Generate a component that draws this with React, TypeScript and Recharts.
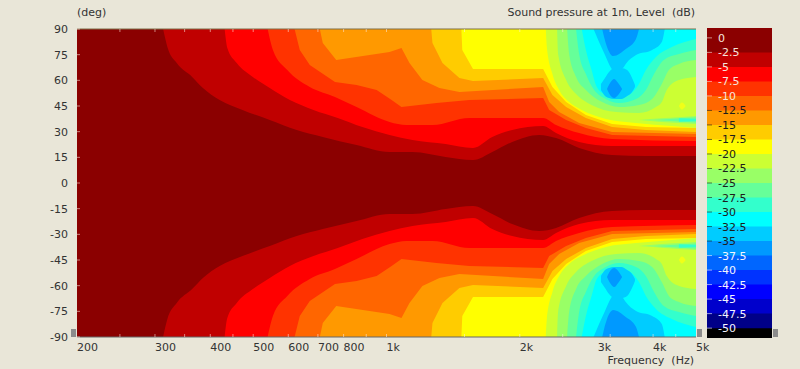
import React from 'react';
import { ComposedChart, Area, XAxis, YAxis } from 'recharts';

const FONT = '"DejaVu Sans", sans-serif';
const BG = '#e9e6d8';

// axis ticks
const angleTicks = [-90, -75, -60, -45, -30, -15, 0, 15, 30, 45, 60, 75, 90];
const freqMinor = [250, 300, 350, 400, 450, 500, 600, 700, 800, 900, 1000, 1500, 2000, 2500, 3200, 4000, 4500];
const freqLabels: Record<number, string> = {
  200: '200', 300: '300', 400: '400', 500: '500', 600: '600', 700: '700', 800: '800',
  1000: '1k', 2000: '2k', 3000: '3k', 4000: '4k', 5000: '5k',
};
const freqTicks = [200, 250, 300, 350, 400, 450, 500, 600, 700, 800, 900, 1000, 1500, 2000, 2500, 3000, 3200, 4000, 4500, 5000];

// contour lines of the upper half, [Hz, deg], the level is filled from the line up to 90 deg
const c25 = [[313, 90], [320, 79.5], [336, 70.1], [364, 62], [385, 55.5], [420, 48.5], [473, 42.7], [545, 36.8], [627, 31], [718, 26.9], [856, 22.2], [1016, 18.1], [1145, 18.1], [1360, 15.2], [1568, 13.4], [1733, 18.1], [1922, 24], [2212, 28.1], [2415, 26.3], [2723, 20.5], [3232, 16.4], [3853, 15.8], [5000, 15.8]];
const c50 = [[431, 90], [437, 78.9], [459, 70.1], [499, 62], [545, 55.5], [605, 48.5], [684, 42.7], [776, 38], [882, 32.7], [1016, 28.1], [1145, 25.1], [1360, 22.8], [1568, 20.5], [1733, 26.9], [1922, 31], [2258, 33.3], [2415, 29.2], [2723, 24], [3232, 21.6], [5000, 21.6]];
const c75 = [[539, 90], [554, 77.7], [597, 66], [671, 56.1], [765, 50.3], [856, 44.4], [1016, 35.7], [1110, 33.9], [1270, 33.9], [1538, 38], [1767, 38], [2258, 38], [2415, 33.9], [2723, 29.2], [3232, 25.7], [5000, 24.5]];
const c100 = [[620, 90], [637, 77.7], [671, 69], [765, 59], [856, 57.3], [950, 54.4], [1027, 48.5], [1081, 44.4], [1297, 46.8], [1538, 48.5], [2258, 49.7], [2330, 42.7], [2545, 36.8], [2820, 32.1], [3232, 28.1], [5000, 26.9]];
const c125 = [[707, 90], [718, 81.8], [770, 71.9], [1016, 76.6], [1081, 78.9], [1127, 70.1], [1205, 60.2], [1317, 55.5], [1461, 53.2], [2258, 56.1], [2330, 47.3], [2454, 41.5], [2723, 35.1], [3232, 29.8], [5000, 28.6]];
const c150 = [[1262, 90], [1270, 81.8], [1338, 70.1], [1461, 61.4], [1568, 59.6], [2258, 61.4], [2370, 51.4], [2545, 44.4], [2820, 38], [3232, 32.7], [3853, 31], [5000, 29.8]];
const c175 = [[1476, 90], [1483, 77.7], [1568, 66.6], [2258, 66.6], [2370, 56.1], [2545, 47.3], [2820, 39.7], [3232, 34.5], [3853, 32.7], [5000, 32.1]];
const c200 = [[2290, 90], [2302, 79.5], [2370, 63.7], [2454, 54.4], [2585, 47.3], [2760, 42.7], [3130, 37.4], [3660, 35.1], [4410, 33.3], [5000, 32.1]];
const c225 = [[2428, 90], [2441, 75.4], [2545, 60.2], [2680, 52], [2905, 45.6], [3300, 41.5], [3717, 40.9], [4060, 44.4], [4185, 47.3], [4295, 54.4], [4575, 60.2], [5000, 62]];
const c250 = [[2558, 90], [2585, 75.4], [2680, 62], [2820, 54.4], [3070, 47.3], [3351, 44.4], [3717, 45.6], [3980, 49.1], [4185, 57.9], [4343, 66], [4575, 69.6], [5000, 71.9]];
const c275 = [[2680, 90], [2723, 75.4], [2820, 63.7], [2935, 54.9], [3130, 49.1], [3351, 46.8], [3660, 49.1], [3853, 54.4], [4020, 63.7], [4230, 71.9], [4575, 75.4], [5000, 77.7]];
const c300 = [[2760, 90], [2820, 77.7], [2905, 66], [2985, 56.1], [3130, 51.4], [3300, 49.1], [3529, 51.4], [3717, 57.9], [3853, 66], [4060, 73.6], [4410, 79.5], [5000, 84.2]];
const c325 = [[2935, 90], [3020, 82.4], [3115, 74.8], [3215, 67.2], [3285, 64.9], [3420, 67.2], [3470, 69.6], [3660, 74.8], [3980, 77.7], [4185, 82.4], [4250, 90]];
const c350 = [[3070, 90], [3100, 85.3], [3148, 79.5], [3250, 74.2], [3470, 78.3], [3660, 84.2], [3717, 90]];

// closed islands, [Hz, low deg, high deg]
const spot200 = [[4575, 45, 45], [4645, 43, 47], [4740, 45, 45]];
const streak225 = [[3717, 36.8, 36.8], [4185, 35.7, 37.8], [5000, 34.5, 39.2]];
const streak250 = [[4020, 36.8, 36.8], [5000, 35.3, 38.4]];
const streak275 = [[4575, 35.8, 37.8], [5000, 36.2, 37.4]];
const blob325 = [[3050, 54.4, 57.9], [3115, 50.9, 61.4], [3181, 49.7, 64.9], [3268, 49.1, 67.2], [3390, 49.1, 67.2], [3495, 50.9, 66], [3585, 53.2, 61.4], [3640, 56.1, 57.3]];
const blob350 = [[3148, 54.9, 54.9], [3198, 51.4, 58.4], [3268, 49.7, 60.8], [3335, 51.4, 58.4], [3405, 54.9, 54.9]];

// colour scale, top to bottom
const scaleTickValues = [0, -2.5, -5, -7.5, -10, -12.5, -15, -17.5, -20, -22.5, -25, -27.5, -30, -32.5, -35, -37.5, -40, -42.5, -45, -47.5, -50];
const scaleEdges = [1.7, -2.5, -5, -7.5, -10, -12.5, -15, -17.5, -20, -22.5, -25, -27.5, -30, -32.5, -35, -37.5, -40, -42.5, -45, -47.5, -50];
const scaleColors = ['#8b0000', '#c00000', '#ff0000', '#ff3300', '#ff6600', '#ff9900', '#ffcc00', '#ffff00', '#ccff33', '#99ff66', '#66ff99', '#33ffcc', '#00ffff', '#00ccff', '#0099ff', '#0066ff', '#0033ff', '#0000ff', '#0000cc', '#000088', '#000000'];

const upperOf = (line: number[][]) => line.map(([f, a]) => ({ f, r: [a, 90] }));
const lowerOf = (line: number[][]) => line.map(([f, a]) => ({ f, r: [-90, -a] }));
const islandUp = (pts: number[][]) => pts.map(([f, lo, hi]) => ({ f, r: [lo, hi] }));
const islandDown = (pts: number[][]) => pts.map(([f, lo, hi]) => ({ f, r: [-hi, -lo] }));

// paint order, outermost level first. the middle levels keep their sharp corners
const contours: [number[][], string, string][] = [
  [c25, scaleColors[1], 'monotoneX'], [c50, scaleColors[2], 'monotoneX'], [c75, scaleColors[3], 'monotoneX'],
  [c100, scaleColors[4], 'linear'], [c125, scaleColors[5], 'linear'], [c150, scaleColors[6], 'linear'],
  [c175, scaleColors[7], 'linear'], [c200, scaleColors[8], 'monotoneX'], [c225, scaleColors[9], 'monotoneX'],
  [c250, scaleColors[10], 'monotoneX'], [c275, scaleColors[11], 'monotoneX'], [c300, scaleColors[12], 'monotoneX'],
  [c325, scaleColors[13], 'monotoneX'], [c350, scaleColors[14], 'monotoneX'],
];
const islands: [number[][], string][] = [
  [spot200, '#f0ff18'], [streak225, scaleColors[9]], [streak250, scaleColors[10]], [streak275, scaleColors[11]],
  [blob325, scaleColors[13]], [blob350, scaleColors[14]],
];

const fill = (key: string, data: any[], color: string, curve: any = 'linear') => (
  <Area key={key} data={data} dataKey="r" type={curve} fill={color} fillOpacity={1} stroke="none" dot={false} activeDot={false} isAnimationActive={false} />
);

const TICK = 'rgba(255,235,225,0.55)';

const LeftTick = ({ x, y, payload }: any) => (
  <g>
    <line x1={x} x2={x + 3} y1={y} y2={y} stroke={TICK} />
    <text x={x - 9} y={y} dy={4} textAnchor="end" fontSize={11} fontFamily={FONT} fill="#333">{payload.value}</text>
  </g>
);
const RightTick = ({ x, y }: any) => <line x1={x - 3} x2={x} y1={y} y2={y} stroke={TICK} />;
const TopTick = ({ x, y, payload }: any) =>
  freqMinor.includes(payload.value) ? <line x1={x} x2={x} y1={y} y2={y + 3} stroke={TICK} /> : <g />;
const BottomTick = ({ x, y, payload }: any) => (
  <g>
    {freqMinor.includes(payload.value) && <line x1={x} x2={x} y1={y - 3} y2={y} stroke={TICK} />}
    {freqLabels[payload.value] && (
      <text x={x} y={y} dy={14} textAnchor="start" fontSize={11} fontFamily={FONT} fill="#333">{freqLabels[payload.value]}</text>
    )}
  </g>
);

const ScaleTick = ({ x, y, payload }: any) => {
  const v = payload.value;
  const color = v >= -10 ? '#f6e4dc' : v >= -35 ? '#1c1c1c' : '#f4f4ff';
  return (
    <g>
      <line x1={x} x2={x + 5} y1={y} y2={y} stroke={color} strokeOpacity={0.6} />
      <text x={x + 11} y={y} dy={4} fontSize={11} fontFamily={FONT} fill={color}>{v}</text>
    </g>
  );
};

const textStyle: React.CSSProperties = { position: 'absolute', fontFamily: FONT, fontSize: 11, color: '#333', whiteSpace: 'pre', lineHeight: '13px' };
const handle = (left: number): React.CSSProperties => ({ position: 'absolute', left, top: 329, width: 5, height: 8, background: '#8c8c8c' });

export default function App() {
  return (
    <div style={{ position: 'fixed', left: 0, top: 0, width: 800, height: 369, background: BG, overflow: 'hidden' }}>
      <ComposedChart width={800} height={369} margin={{ top: 0, right: 0, bottom: 0, left: 0 }} style={{ position: 'absolute', left: 0, top: 0 }}>
        {fill('base', [{ f: 200, r: [-90, 90] }, { f: 5000, r: [-90, 90] }], scaleColors[0])}
        {contours.flatMap(([line, color, curve], i) => [
          fill(`u${i}`, upperOf(line), color, curve),
          fill(`l${i}`, lowerOf(line), color, curve),
        ])}
        {islands.flatMap(([pts, color], i) => [
          fill(`iu${i}`, islandUp(pts), color, 'monotoneX'),
          fill(`il${i}`, islandDown(pts), color, 'monotoneX'),
        ])}
        <XAxis xAxisId={0} dataKey="f" type="number" scale="log" domain={[200, 5000]} allowDataOverflow ticks={freqTicks} interval={0} height={32} tickSize={0} tickMargin={0} tickLine={false} axisLine={{ stroke: '#666' }} tick={BottomTick} />
        <XAxis xAxisId="top" orientation="top" dataKey="f" type="number" scale="log" domain={[200, 5000]} allowDataOverflow ticks={freqTicks} interval={0} height={29} tickSize={0} tickMargin={0} tickLine={false} axisLine={{ stroke: '#7d6f48' }} tick={TopTick} />
        <YAxis yAxisId={0} type="number" domain={[-90, 90]} ticks={angleTicks} interval={0} width={77} tickSize={0} tickMargin={0} tickLine={false} axisLine={false} tick={LeftTick} />
        <YAxis yAxisId="right" orientation="right" type="number" domain={[-90, 90]} ticks={angleTicks} interval={0} width={104} tickSize={0} tickMargin={0} tickLine={false} axisLine={false} tick={RightTick} />
      </ComposedChart>

      <ComposedChart width={66} height={310} margin={{ top: 0, right: 0, bottom: 0, left: 0 }} style={{ position: 'absolute', left: 706, top: 28 }}>
        {scaleColors.map((color, i) =>
          fill(`s${i}`, [{ x: 0, r: [-51.7, scaleEdges[i]] }, { x: 1, r: [-51.7, scaleEdges[i]] }], color)
        )}
        <XAxis dataKey="x" type="number" domain={[0, 1]} hide />
        <YAxis type="number" domain={[-51.7, 1.7]} ticks={scaleTickValues} interval={0} width={1} tickSize={0} tickMargin={0} tickLine={false} axisLine={false} tick={ScaleTick} />
      </ComposedChart>

      <div style={{ ...textStyle, left: 77, top: 6 }}>(deg)</div>
      <div style={{ ...textStyle, right: 105, top: 6 }}>Sound pressure at 1m, Level  (dB)</div>
      <div style={{ ...textStyle, right: 106, top: 354 }}>Frequency  (Hz)</div>
      <div style={handle(71)} />
      <div style={handle(697)} />
      <div style={handle(773)} />
    </div>
  );
}
